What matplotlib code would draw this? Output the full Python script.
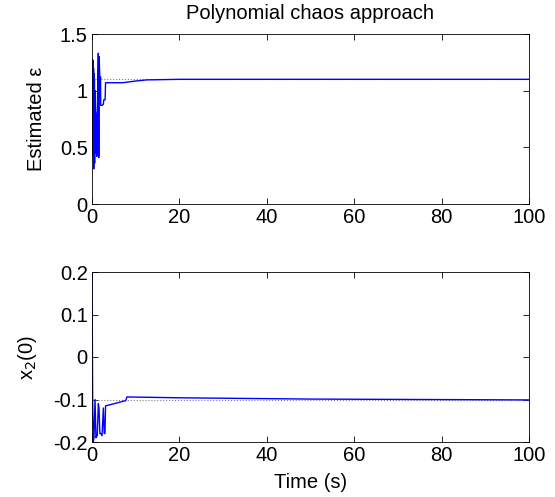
import matplotlib
matplotlib.use('Agg')
import matplotlib.pyplot as plt

plt.rcParams['font.family'] = ['Liberation Sans', 'DejaVu Sans']
plt.rcParams['font.size'] = 14.5

# estimated epsilon (top panel)
eps_t = [0, 0.08, 0.15, 0.2, 0.25, 0.3, 0.35, 0.4, 0.45, 0.5, 0.55, 0.6, 0.65, 0.7,
         0.8, 0.9, 1.0, 1.1, 1.2, 1.3, 1.45, 1.55, 1.65, 1.75, 1.85, 1.95, 2.0,
         2.3, 2.6, 2.7, 3.0, 3.1, 7.0, 8.0, 10.0, 12.5, 20, 40, 100]
eps_v = [1.2, 0.45, 1.25, 0.5, 1.27, 0.42, 1.2, 0.31, 1.15, 0.5, 1.1, 0.36, 0.8, 1.0,
         0.82, 0.45, 0.8, 0.42, 0.8, 1.0, 1.33, 0.41, 1.3, 1.15, 1.05, 1.12, 0.87,
         0.87, 0.88, 0.92, 0.92, 1.07, 1.07, 1.075, 1.085, 1.095, 1.1, 1.1, 1.1]
eps_ref = 1.1

# x2(0) estimate (bottom panel)
x2_t = [0, 0.15, 0.3, 0.45, 0.7, 0.9, 1.05, 1.2, 1.45, 1.6, 1.8, 2.0, 2.3, 2.6,
        2.8, 2.97, 3.1, 5.0, 7.55, 7.7, 8.0, 20, 50, 100]
x2_v = [0.2, -0.1, -0.2, -0.19, -0.1, -0.19, -0.187, -0.185, -0.11, -0.12, -0.18,
        -0.18, -0.185, -0.12, -0.18, -0.18, -0.115, -0.11, -0.103, -0.103, -0.094,
        -0.096, -0.099, -0.101]
x2_ref = -0.1

fig = plt.figure(figsize=(5.55, 4.97), dpi=100)
ax1 = fig.add_axes([92/555, (497-204)/497, 437/555, 170/497])
ax2 = fig.add_axes([92/555, (497-442)/497, 437/555, 170/497])

ax1.plot([0, 100], [eps_ref, eps_ref], ':', color='gray', lw=0.8)
ax1.plot(eps_t, eps_v, color='blue', lw=1.0)
ax1.set_xlim(0, 100)
ax1.set_ylim(0, 1.5)
ax1.set_yticks([0, 0.5, 1, 1.5])
ax1.set_yticklabels(['0', '0.5', '1', '1.5'])
ax1.set_ylabel('Estimated \u03b5', labelpad=10)
ax1.set_title('Polynomial chaos approach', fontsize=14.5, pad=11)

ax2.plot([0, 100], [x2_ref, x2_ref], ':', color='gray', lw=0.8)
ax2.plot(x2_t, x2_v, color='blue', lw=1.0)
ax2.set_xlim(0, 100)
ax2.set_ylim(-0.2, 0.2)
ax2.set_yticks([-0.2, -0.1, 0, 0.1, 0.2])
ax2.set_yticklabels(['-0.2', '-0.1', '0', '0.1', '0.2'])
ax2.set_ylabel('x$_2$(0)', labelpad=10)
ax2.set_xlabel('Time (s)', labelpad=6)

for ax in (ax1, ax2):
    ax.set_xticks([0, 20, 40, 60, 80, 100])
    ax.tick_params(direction='in', top=True, right=True, length=4, width=0.6, pad=3)
    for s in ax.spines.values():
        s.set_linewidth(0.6)

fig.savefig('out.png', dpi=100)
